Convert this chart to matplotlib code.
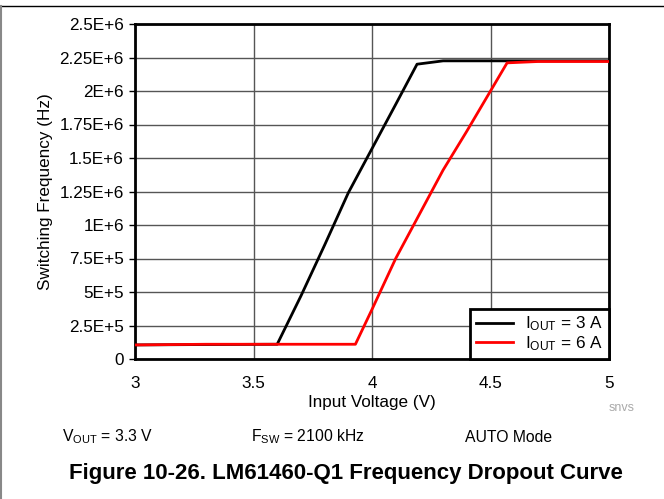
import matplotlib
matplotlib.use("Agg")
import matplotlib.pyplot as plt
from matplotlib.lines import Line2D

plt.rcParams['font.family'] = ['Liberation Sans', 'DejaVu Sans']
plt.rcParams['mathtext.fontset'] = 'custom'
plt.rcParams['mathtext.rm'] = 'Liberation Sans'
plt.rcParams['mathtext.it'] = 'Liberation Sans'

# Data
v_3a = [3.0, 3.3, 3.6, 3.7, 3.8, 3.9, 4.0, 4.1, 4.19, 4.3, 4.6, 5.0]
f_3a = [1.05e5, 1.08e5, 1.1e5, 4.7e5, 8.5e5, 1.24e6, 1.57e6, 1.9e6, 2.2e6, 2.225e6, 2.225e6, 2.225e6]
v_6a = [3.0, 3.3, 3.6, 3.93, 4.0, 4.1, 4.2, 4.3, 4.4, 4.5, 4.57, 4.7, 5.0]
f_6a = [1.05e5, 1.1e5, 1.1e5, 1.1e5, 3.7e5, 7.5e5, 1.08e6, 1.41e6, 1.70e6, 2.0e6, 2.21e6, 2.22e6, 2.22e6]
x_ticks = [3, 3.5, 4, 4.5, 5]
x_labels = ['3', '3.5', '4', '4.5', '5']
y_ticks = [0, 2.5e5, 5e5, 7.5e5, 1e6, 1.25e6, 1.5e6, 1.75e6, 2e6, 2.25e6, 2.5e6]
y_labels = ['0', '2.5E+5', '5E+5', '7.5E+5', '1E+6', '1.25E+6', '1.5E+6', '1.75E+6', '2E+6', '2.25E+6', '2.5E+6']
labels = ['I$_{\\mathrm{OUT}}$ = 3 A', 'I$_{\\mathrm{OUT}}$ = 6 A']

W, H = 664, 499
fig = plt.figure(figsize=(W/100, H/100), dpi=100)
ax = fig.add_axes([135/W, 1-359/H, (609-135)/W, (359-24)/H])

ax.plot(v_3a, f_3a, color='black', lw=2, label=labels[0], zorder=3)
ax.plot(v_6a, f_6a, color='#ff0000', lw=2, label=labels[1], zorder=3)

ax.set_xlim(3, 5)
ax.set_ylim(0, 2.5e6)
ax.set_xticks(x_ticks)
ax.set_xticklabels(x_labels)
ax.set_yticks(y_ticks)
ax.set_yticklabels(y_labels)
ax.tick_params(axis='x', length=0, pad=12, labelsize=12.3)
ax.tick_params(axis='y', length=4, width=1, direction='out', pad=4, labelsize=12.3)
ax.grid(True, color='#555555', lw=1)
ax.set_axisbelow(True)
for s in ax.spines.values():
    s.set_linewidth(2)
ax.set_xlabel('Input Voltage (V)', fontsize=12.3, labelpad=3)
ax.set_ylabel('Switching Frequency (Hz)', fontsize=12.3, labelpad=5)

leg = ax.legend(loc='lower right', borderaxespad=0, fancybox=False, framealpha=1,
                edgecolor='black', fontsize=12.3, handlelength=2.2, borderpad=0.35,
                labelspacing=0.05, handletextpad=0.7)
leg.get_frame().set_linewidth(2)

fig.text(609/W, 1-408/H, 'snvs', fontsize=9, color='#aaaaaa', ha='left', va='center')
fig.text(62/W, 1-437/H, 'V$_{\\mathrm{OUT}}$ = 3.3 V', fontsize=11.3, ha='left', va='center')
fig.text(251/W, 1-437/H, 'F$_{\\mathrm{SW}}$ = 2100 kHz', fontsize=11.3, ha='left', va='center')
fig.text(465/W, 1-437/H, 'AUTO Mode', fontsize=11.3, ha='left', va='center')
fig.text(346/W, 1-474/H, 'Figure 10-26. LM61460-Q1 Frequency Dropout Curve', fontsize=16,
         fontweight='bold', ha='center', va='center')

fig.add_artist(Line2D([0, 1], [1-6/H, 1-6/H], transform=fig.transFigure, color='black', lw=1))
fig.add_artist(Line2D([0.5/W, 0.5/W], [0, 1-6/H], transform=fig.transFigure, color='#888888', lw=1.5))

fig.savefig('out.png', dpi=100)
